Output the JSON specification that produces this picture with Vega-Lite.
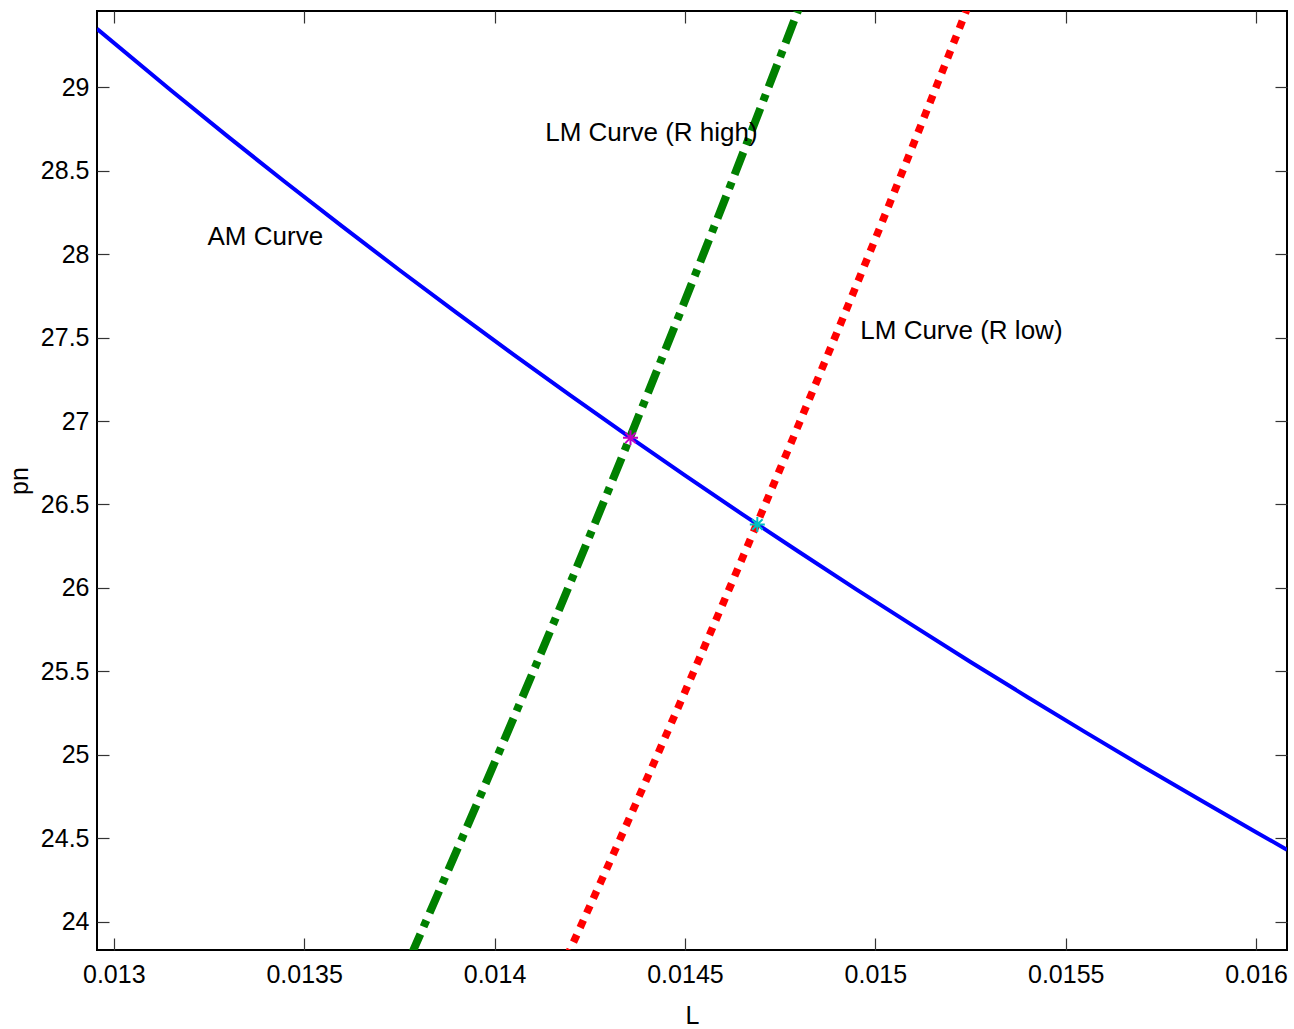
{
  "$schema": "https://vega.github.io/schema/vega-lite/v6.json",
  "width": 1190,
  "height": 939,
  "autosize": "none",
  "padding": {"left": 97, "top": 11, "right": 7, "bottom": 79},
  "background": "white",
  "config": {
    "view": {"stroke": "black", "strokeWidth": 2},
    "font": "Liberation Sans",
    "axis": {"grid": false, "domain": false, "tickColor": "#333", "tickSize": -12, "tickWidth": 1.2, "labelFont": "Liberation Sans", "labelFontSize": 25, "labelColor": "black", "titleFont": "Liberation Sans", "titleFontSize": 25, "titleFontWeight": "normal", "titleColor": "black"}
  },
  "datasets": {
    "am": [
      {"L": 0.012956, "pn": 29.35},
      {"L": 0.01315, "pn": 28.982},
      {"L": 0.0133, "pn": 28.704},
      {"L": 0.01345, "pn": 28.432},
      {"L": 0.0136, "pn": 28.166},
      {"L": 0.01375, "pn": 27.905},
      {"L": 0.0139, "pn": 27.649},
      {"L": 0.01405, "pn": 27.398},
      {"L": 0.0142, "pn": 27.152},
      {"L": 0.01435, "pn": 26.911},
      {"L": 0.0145, "pn": 26.674},
      {"L": 0.01465, "pn": 26.442},
      {"L": 0.0148, "pn": 26.215},
      {"L": 0.01495, "pn": 25.991},
      {"L": 0.0151, "pn": 25.772},
      {"L": 0.01525, "pn": 25.556},
      {"L": 0.0154, "pn": 25.345},
      {"L": 0.01555, "pn": 25.137},
      {"L": 0.0157, "pn": 24.933},
      {"L": 0.01585, "pn": 24.733},
      {"L": 0.016, "pn": 24.536},
      {"L": 0.016081, "pn": 24.431}
    ],
    "lmhigh": [
      {"L": 0.01378, "pn": 23.794},
      {"L": 0.014, "pn": 24.952},
      {"L": 0.0142, "pn": 26.036},
      {"L": 0.0144, "pn": 27.152},
      {"L": 0.0146, "pn": 28.299},
      {"L": 0.0148, "pn": 29.478}
    ],
    "lmlow": [
      {"L": 0.01419, "pn": 23.79},
      {"L": 0.0144, "pn": 24.856},
      {"L": 0.0146, "pn": 25.907},
      {"L": 0.0148, "pn": 26.986},
      {"L": 0.015, "pn": 28.092},
      {"L": 0.0152, "pn": 29.234},
      {"L": 0.01525, "pn": 29.523}
    ],
    "eq": [
      {"L": 0.014357, "pn": 26.899, "c": "high"},
      {"L": 0.01469, "pn": 26.38, "c": "low"}
    ],
    "labels": [
      {"L": 0.014412, "pn": 28.726, "t": "LM Curve (R high)"},
      {"L": 0.013398, "pn": 28.104, "t": "AM Curve"},
      {"L": 0.015226, "pn": 27.541, "t": "LM Curve (R low)"}
    ]
  },
  "resolve": {"axis": {"x": "independent", "y": "independent"}},
  "layer": [
    {
      "data": {"name": "am"},
      "mark": {"type": "line", "color": "#0000ff", "strokeWidth": 4, "clip": true, "interpolate": "monotone"},
      "encoding": {
        "x": {"field": "L", "type": "quantitative", "scale": {"domain": [0.012956, 0.016081], "nice": false, "zero": false}, "axis": {"title": "L", "values": [0.013, 0.0135, 0.014, 0.0145, 0.015, 0.0155, 0.016], "format": "~g", "labelPadding": 24, "titlePadding": 16}},
        "y": {"field": "pn", "type": "quantitative", "scale": {"domain": [23.83, 29.457], "nice": false, "zero": false}, "axis": {"title": "pn", "values": [24, 24.5, 25, 25.5, 26, 26.5, 27, 27.5, 28, 28.5, 29], "format": "~g", "labelPadding": 20, "titlePadding": 8}}
      }
    },
    {
      "data": {"name": "lmhigh"},
      "mark": {"type": "line", "color": "#008000", "strokeWidth": 8, "strokeDash": [24, 8, 7, 8], "clip": true, "interpolate": "monotone"},
      "encoding": {
        "x": {"field": "L", "type": "quantitative", "axis": {"orient": "top", "labels": false, "title": null, "values": [0.013, 0.0135, 0.014, 0.0145, 0.015, 0.0155, 0.016]}},
        "y": {"field": "pn", "type": "quantitative", "axis": {"orient": "right", "labels": false, "title": null, "values": [24, 24.5, 25, 25.5, 26, 26.5, 27, 27.5, 28, 28.5, 29]}}
      }
    },
    {
      "data": {"name": "lmlow"},
      "mark": {"type": "line", "color": "#ff0000", "strokeWidth": 7.5, "strokeDash": [8, 8], "clip": true, "interpolate": "monotone"},
      "encoding": {
        "x": {"field": "L", "type": "quantitative", "axis": null},
        "y": {"field": "pn", "type": "quantitative", "axis": null}
      }
    },
    {
      "data": {"name": "eq"},
      "mark": {"type": "point", "shape": "M-1,0L1,0M0,-1L0,1M-0.7,-0.7L0.7,0.7M-0.7,0.7L0.7,-0.7", "size": 225, "strokeWidth": 2, "filled": false, "opacity": 1},
      "encoding": {
        "x": {"field": "L", "type": "quantitative", "axis": null},
        "y": {"field": "pn", "type": "quantitative", "axis": null},
        "color": {"field": "c", "type": "nominal", "scale": {"domain": ["high", "low"], "range": ["#c000c0", "#00c0c0"]}, "legend": null}
      }
    },
    {
      "data": {"name": "labels"},
      "mark": {"type": "text", "fontSize": 26, "font": "Liberation Sans", "color": "black", "align": "center", "baseline": "middle"},
      "encoding": {
        "x": {"field": "L", "type": "quantitative", "axis": null},
        "y": {"field": "pn", "type": "quantitative", "axis": null},
        "text": {"field": "t", "type": "nominal"}
      }
    }
  ]
}
